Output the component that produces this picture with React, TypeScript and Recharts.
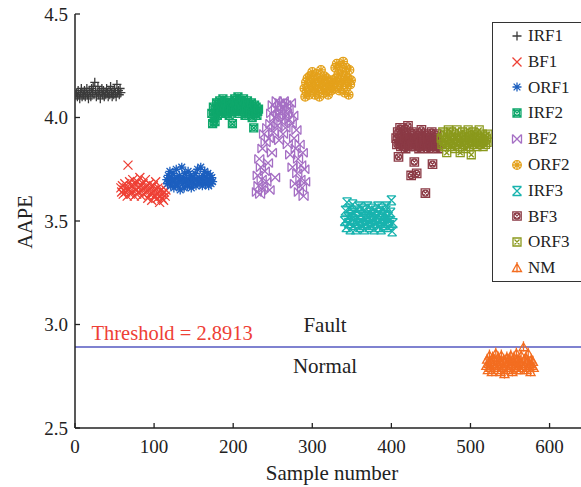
import React from 'react';
import { ScatterChart, Scatter, XAxis, YAxis, ReferenceLine, Legend } from 'recharts';

const FONT = '"Liberation Serif", Tinos, "DejaVu Serif", serif';

const seriesNames = ['IRF1', 'BF1', 'ORF1', 'IRF2', 'BF2', 'ORF2', 'IRF3', 'BF3', 'ORF3', 'NM'];
const seriesColors = ['#3b3b3b', '#ee4035', '#1c5fbf', '#0ea76b', '#a56fc4', '#e4a11b', '#18b3ae', '#8b3a45', '#8a991c', '#f36d20'];
const seriesShapes = ['plus', 'cross', 'asterisk', 'boxCircle', 'bowtie', 'ballX', 'hourglass', 'boxCircleX', 'boxX', 'triStem'];
const startSample = [1, 58, 116, 173, 230, 290, 341, 406, 463, 520];

const irf1Y = [
  4.11, 4.12, 4.10, 4.13, 4.11, 4.09, 4.12, 4.14, 4.10, 4.12,
  4.11, 4.13, 4.10, 4.12, 4.14, 4.11, 4.09, 4.13, 4.12, 4.10,
  4.14, 4.12, 4.15, 4.11, 4.17, 4.13, 4.10, 4.12, 4.15, 4.11,
  4.13, 4.09, 4.12, 4.14, 4.11, 4.13, 4.10, 4.12, 4.11, 4.14,
  4.12, 4.10, 4.13, 4.11, 4.15, 4.12, 4.10, 4.13, 4.11, 4.14,
  4.12, 4.10, 4.16, 4.12, 4.13, 4.11, 4.14, 4.12,
];
const bf1Y = [
  3.66, 3.64, 3.67, 3.63, 3.65, 3.68, 3.64, 3.66, 3.62, 3.77,
  3.65, 3.69, 3.63, 3.67, 3.64, 3.70, 3.66, 3.62, 3.68, 3.65,
  3.63, 3.69, 3.66, 3.64, 3.71, 3.67, 3.62, 3.65, 3.68, 3.63,
  3.66, 3.70, 3.64, 3.67, 3.61, 3.65, 3.68, 3.63, 3.66, 3.60,
  3.64, 3.67, 3.62, 3.65, 3.69, 3.63, 3.61, 3.66, 3.64, 3.59,
  3.62, 3.65, 3.61, 3.63, 3.60, 3.64, 3.62, 3.65,
];
const orf1Y = [
  3.70, 3.68, 3.72, 3.69, 3.74, 3.67, 3.71, 3.69, 3.73, 3.66,
  3.70, 3.68, 3.75, 3.71, 3.67, 3.69, 3.72, 3.65, 3.70, 3.76,
  3.68, 3.71, 3.66, 3.73, 3.69, 3.70, 3.67, 3.74, 3.70, 3.68,
  3.72, 3.66, 3.69, 3.71, 3.68, 3.70, 3.73, 3.67, 3.70, 3.75,
  3.69, 3.71, 3.68, 3.76, 3.70, 3.67, 3.72, 3.69, 3.74, 3.68,
  3.71, 3.69, 3.73, 3.67, 3.70, 3.72, 3.68, 3.71, 3.69,
];
const irf2Y = [
  4.02, 3.97, 4.05, 4.00, 3.98, 4.04, 4.07, 4.01, 4.06, 4.03,
  4.08, 4.04, 4.02, 4.06, 4.09, 4.03, 4.05, 4.07, 4.02, 4.06,
  4.04, 4.08, 4.01, 4.05, 4.07, 4.03, 3.97, 4.06, 4.04, 4.09,
  4.03, 4.07, 4.05, 4.10, 4.02, 4.06, 4.08, 4.04, 4.07, 4.03,
  4.09, 4.05, 4.01, 4.07, 4.04, 4.08, 4.02, 4.06, 4.05, 4.03,
  4.07, 4.00, 4.04, 3.95, 4.06, 4.02, 4.05, 4.01, 4.03, 4.04,
];
const bf2Y = [
  3.64, 3.72, 3.67, 3.80, 3.63, 3.76, 3.70, 3.85, 3.66, 3.92,
  3.74, 3.88, 3.69, 3.95, 3.78, 3.90, 3.65, 3.97, 4.02, 3.83,
  4.06, 3.93, 4.00, 3.71, 4.04, 4.08, 3.96, 4.01, 3.89, 4.07,
  4.03, 3.98, 4.05, 3.92, 4.08, 4.00, 3.95, 4.06, 4.02, 3.87,
  4.04, 3.99, 3.82, 4.07, 3.97, 3.76, 4.01, 3.90, 3.68, 3.85,
  3.94, 3.73, 3.80, 3.64, 3.87, 3.70, 3.77, 3.66, 3.83, 3.62,
  3.75, 3.69,
];
const orf2Y = [
  4.14, 4.10, 4.17, 4.12, 4.19, 4.15, 4.11, 4.20, 4.13, 4.17,
  4.22, 4.14, 4.18, 4.11, 4.16, 4.21, 4.13, 4.19, 4.15, 4.10,
  4.17, 4.23, 4.14, 4.18, 4.12, 4.20, 4.16, 4.13, 4.19, 4.15,
  4.11, 4.17, 4.14, 4.16, 4.13, 4.18, 4.15, 4.14, 4.17, 4.24,
  4.19, 4.26, 4.16, 4.21, 4.13, 4.25, 4.18, 4.15, 4.22, 4.27,
  4.17, 4.12, 4.20, 4.24, 4.15, 4.19, 4.11, 4.23, 4.16, 4.18,
];
const irf3Y = [
  3.50, 3.55, 3.47, 3.59, 3.52, 3.49, 3.56, 3.46, 3.53, 3.51,
  3.58, 3.48, 3.54, 3.50, 3.46, 3.55, 3.52, 3.49, 3.57, 3.47,
  3.53, 3.50, 3.56, 3.48, 3.52, 3.46, 3.55, 3.51, 3.49, 3.57,
  3.52, 3.47, 3.54, 3.50, 3.56, 3.48, 3.53, 3.46, 3.51, 3.55,
  3.49, 3.52, 3.57, 3.47, 3.54, 3.50, 3.46, 3.56, 3.51, 3.48,
  3.53, 3.49, 3.55, 3.57, 3.47, 3.52, 3.50, 3.48, 3.54, 3.60,
  3.45, 3.49,
];
const bf3Y = [
  3.90, 3.87, 3.93, 3.81, 3.89, 3.95, 3.86, 3.91, 3.88, 3.94,
  3.87, 3.90, 3.85, 3.92, 3.89, 3.96, 3.86, 3.91, 3.88, 3.72,
  3.93, 3.87, 3.90, 3.785, 3.89, 3.86, 3.73, 3.92, 3.88, 3.85,
  3.91, 3.87, 3.94, 3.89, 3.86, 3.90, 3.88, 3.635, 3.92, 3.87,
  3.89, 3.85, 3.91, 3.88, 3.86, 3.93, 3.775, 3.89, 3.87, 3.90,
  3.86, 3.92, 3.88, 3.85,
];
const orf3Y = [
  3.90, 3.87, 3.93, 3.89, 3.86, 3.92, 3.88, 3.83, 3.91, 3.94,
  3.87, 3.90, 3.86, 3.93, 3.89, 3.88, 3.92, 3.85, 3.90, 3.87,
  3.94, 3.89, 3.91, 3.86, 3.83, 3.90, 3.88, 3.93, 3.87, 3.91,
  3.89, 3.85, 3.92, 3.88, 3.94, 3.90, 3.86, 3.91, 3.82, 3.89,
  3.93, 3.87, 3.90, 3.88, 3.92, 3.86, 3.91, 3.89, 3.94, 3.87,
  3.90, 3.88, 3.92, 3.86, 3.89, 3.91, 3.87, 3.90, 3.88, 3.92,
];
const nmY = [
  2.80, 2.83, 2.78, 2.81, 2.85, 2.79, 2.82, 2.77, 2.84, 2.80,
  2.83, 2.79, 2.86, 2.81, 2.78, 2.84, 2.80, 2.82, 2.77, 2.85,
  2.81, 2.79, 2.83, 2.76, 2.82, 2.80, 2.84, 2.78, 2.81, 2.83,
  2.79, 2.85, 2.80, 2.77, 2.82, 2.84, 2.79, 2.81, 2.86, 2.78,
  2.83, 2.80, 2.82, 2.78, 2.85, 2.81, 2.79, 2.89, 2.83, 2.80,
  2.84, 2.78, 2.82, 2.86, 2.79, 2.81, 2.77, 2.83, 2.80, 2.82,
  2.79,
];

const xTicks = [0, 100, 200, 300, 400, 500, 600];
const yTicks = [2.5, 3.0, 3.5, 4.0, 4.5];
const threshold = 2.8913;
const thresholdText = 'Threshold = 2.8913';

const allY = [irf1Y, bf1Y, orf1Y, irf2Y, bf2Y, orf2Y, irf3Y, bf3Y, orf3Y, nmY];
const series = seriesNames.map((name, k) => ({
  name,
  color: seriesColors[k],
  shape: seriesShapes[k],
  data: allY[k].map((y, i) => ({ x: startSample[k] + i, y })),
}));

function Glyph({ kind, cx, cy, color }: { kind: string; cx: number; cy: number; color: string }) {
  const s = 4.5;
  const p = { stroke: color, strokeWidth: 1.3, fill: 'none' };
  const X = `M${cx - s},${cy - s}L${cx + s},${cy + s}M${cx + s},${cy - s}L${cx - s},${cy + s}`;
  const P = `M${cx - s},${cy}H${cx + s}M${cx},${cy - s}V${cy + s}`;
  const sq = (h: number) => `M${cx - h},${cy - h}H${cx + h}V${cy + h}H${cx - h}Z`;
  switch (kind) {
    case 'plus':
      return <path d={P} {...p} />;
    case 'cross':
      return <path d={X} {...p} />;
    case 'asterisk': {
      const d = s * 0.75;
      return <path d={`${P}M${cx - d},${cy - d}L${cx + d},${cy + d}M${cx + d},${cy - d}L${cx - d},${cy + d}`} {...p} />;
    }
    case 'boxCircle':
      return (
        <g>
          <path d={`${sq(4)}M${cx - 4},${cy - 4}L${cx + 4},${cy + 4}M${cx + 4},${cy - 4}L${cx - 4},${cy + 4}`} {...p} />
          <circle cx={cx} cy={cy} r={2.6} {...p} />
        </g>
      );
    case 'bowtie':
      return <path d={`${X}M${cx - s},${cy - s}V${cy + s}M${cx + s},${cy - s}V${cy + s}`} {...p} />;
    case 'ballX':
      return (
        <g>
          <circle cx={cx} cy={cy} r={4.3} {...p} />
          <path d={`M${cx - 3},${cy - 3}L${cx + 3},${cy + 3}M${cx + 3},${cy - 3}L${cx - 3},${cy + 3}M${cx - 4.3},${cy}H${cx + 4.3}M${cx},${cy - 4.3}V${cy + 4.3}`} {...p} />
        </g>
      );
    case 'hourglass':
      return <path d={`${X}M${cx - s},${cy - s}H${cx + s}M${cx - s},${cy + s}H${cx + s}`} {...p} />;
    case 'boxCircleX':
      return (
        <g>
          <path d={`${sq(4.2)}M${cx - 2.6},${cy - 2.6}L${cx + 2.6},${cy + 2.6}M${cx + 2.6},${cy - 2.6}L${cx - 2.6},${cy + 2.6}`} {...p} />
          <circle cx={cx} cy={cy} r={3} {...p} />
        </g>
      );
    case 'boxX':
      return <path d={`${sq(4)}M${cx - 2.5},${cy - 2.5}L${cx + 2.5},${cy + 2.5}M${cx + 2.5},${cy - 2.5}L${cx - 2.5},${cy + 2.5}`} {...p} />;
    case 'triStem':
      return <path d={`M${cx - s},${cy + 3.5}L${cx + s},${cy + 3.5}L${cx},${cy - s}Z M${cx},${cy + s}V${cy - s - 1.5}`} {...p} />;
    default:
      return <circle cx={cx} cy={cy} r={3} {...p} />;
  }
}

const renderLegend = () => (
  <div
    style={{
      border: '1px solid #333',
      background: '#fff',
      width: 110,
      height: 260,
      boxSizing: 'border-box',
    }}
  >
    {series.map((s) => (
      <div
        key={s.name}
        style={{
          height: 25.8,
          display: 'flex',
          alignItems: 'center',
          fontFamily: FONT,
          fontSize: 17,
          color: '#222',
          lineHeight: '25.8px',
        }}
      >
        <svg width={35} height={20} style={{ flex: 'none', display: 'block' }}>
          <Glyph kind={s.shape} cx={24} cy={10} color={s.color} />
        </svg>
        <span>{s.name}</span>
      </div>
    ))}
  </div>
);

const renderThresholdLabels = (props: any) => {
  const vb = props.viewBox || {};
  const left = vb.x ?? 75;
  const ly = vb.y ?? 347;
  return (
    <g style={{ fontFamily: FONT }}>
      <text x={left + 16.5} y={ly - 7} fill="#ee4035" fontSize={20.5} style={{ fontFamily: FONT }}>
        {thresholdText}
      </text>
      <text x={left + 250} y={ly - 15} fill="#222" fontSize={21} textAnchor="middle" style={{ fontFamily: FONT }}>
        Fault
      </text>
      <text x={left + 250} y={ly + 26} fill="#222" fontSize={21} textAnchor="middle" style={{ fontFamily: FONT }}>
        Normal
      </text>
    </g>
  );
};

const axisLine = { stroke: '#222', strokeWidth: 1.5 };
const tickLine = { stroke: '#222', strokeWidth: 1.3 };
const tickStyle = { fill: '#222', fontSize: 19, fontFamily: FONT, style: { fontFamily: FONT } };

export default function App() {
  return (
    <div style={{ position: 'absolute', left: 0, top: 0, width: 581, height: 487, overflow: 'hidden', background: '#fff', fontFamily: FONT }}>
      <ScatterChart width={600} height={487} margin={{ top: 14, right: 0, bottom: 0, left: 0 }} style={{ fontFamily: FONT }}>
        <XAxis
          type="number"
          dataKey="x"
          domain={[0, 641]}
          ticks={xTicks}
          allowDataOverflow
          height={59}
          tickSize={-5}
          tickMargin={17}
          axisLine={axisLine}
          tickLine={tickLine}
          tick={tickStyle}
          label={{
            content: () => (
              <text x={332} y={480} textAnchor="middle" fill="#222" fontSize={21} style={{ fontFamily: FONT }}>
                Sample number
              </text>
            ),
          }}
        />
        <XAxis
          xAxisId="top"
          orientation="top"
          type="number"
          dataKey="x"
          domain={[0, 641]}
          ticks={xTicks}
          allowDataOverflow
          height={0}
          tickSize={-5}
          axisLine={axisLine}
          tickLine={tickLine}
          tick={false}
        />
        <YAxis
          type="number"
          dataKey="y"
          domain={[2.5, 4.5]}
          ticks={yTicks}
          allowDataOverflow
          width={75}
          tickSize={-5}
          tickMargin={12}
          axisLine={axisLine}
          tickLine={tickLine}
          tickFormatter={(v: number) => v.toFixed(1)}
          tick={tickStyle}
          label={{
            content: () => (
              <text transform="translate(32,222) rotate(-90)" textAnchor="middle" fill="#222" fontSize={20.5} style={{ fontFamily: FONT }}>
                AAPE
              </text>
            ),
          }}
        />
        <YAxis
          yAxisId="right"
          orientation="right"
          type="number"
          dataKey="y"
          domain={[2.5, 4.5]}
          ticks={yTicks}
          allowDataOverflow
          width={18}
          tickSize={-5}
          axisLine={axisLine}
          tickLine={tickLine}
          tick={false}
        />
        <ReferenceLine y={threshold} stroke="#5558c0" strokeWidth={1.5} label={renderThresholdLabels} />
        {series.map((s) => (
          <Scatter
            key={s.name}
            name={s.name}
            data={s.data}
            fill={s.color}
            isAnimationActive={false}
            shape={(p: any) => <Glyph kind={s.shape} cx={p.cx} cy={p.cy} color={s.color} />}
          />
        ))}
        <Legend
          layout="vertical"
          align="center"
          verticalAlign="middle"
          content={renderLegend}
          wrapperStyle={{ position: 'absolute', left: 492, top: 22, width: 110, height: 260 }}
        />
      </ScatterChart>
    </div>
  );
}
